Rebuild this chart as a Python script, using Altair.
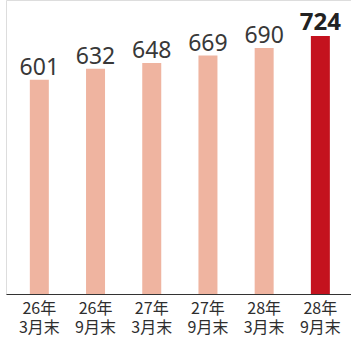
import altair as alt
import pandas as pd

periods = ["26年 3月末", "26年 9月末", "27年 3月末", "27年 9月末", "28年 3月末", "28年 9月末"]
values = [601, 632, 648, 669, 690, 724]
highlight = [False, False, False, False, False, True]

df = pd.DataFrame({"period": periods, "value": values, "hl": highlight})

x = alt.X("period:N", sort=periods, title=None,
          scale=alt.Scale(paddingInner=0.662, paddingOuter=0.4, align=0.53),
          axis=alt.Axis(labelExpr="split(datum.label, ' ')"))
y = alt.Y("value:Q", scale=alt.Scale(domain=[0, 825], nice=False), axis=None)

base = alt.Chart(df)

bars = base.mark_bar().encode(
    x=x, y=y,
    color=alt.Color("hl:N", scale=alt.Scale(domain=[False, True], range=["#EFB4A0", "#C4121E"]), legend=None),
)

txt_normal = base.transform_filter("!datum.hl").mark_text(
    baseline="alphabetic", dy=-5, fontSize=23, font="Noto Sans", color="#383838"
).encode(x=x, y=y, text="value:Q")

txt_hl = base.transform_filter("datum.hl").mark_text(
    baseline="alphabetic", dy=-6, fontSize=24, font="Noto Sans", fontWeight="bold", color="#222222"
).encode(x=x, y=y, text="value:Q")

chart = alt.layer(bars, txt_normal, txt_hl).properties(
    width=345, height=294,
    autosize=alt.AutoSizeParams(type="none"),
    padding={"left": 6, "top": 0, "right": 0, "bottom": 43},
).configure_view(stroke=None).configure(background="white").configure_axisX(
    labelAngle=0, labelFontSize=16, labelLineHeight=19, labelPadding=6,
    labelColor="#2e2e2e", labelFont="Noto Sans CJK JP",
    ticks=False, domainColor="#333333", domainWidth=1.2, labelBaseline="top",
)

chart.save("out.html", embed_options={"renderer": "svg", "actions": False})
